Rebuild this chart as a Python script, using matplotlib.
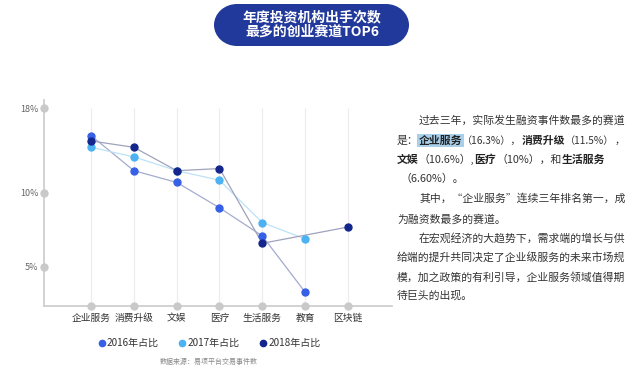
import numpy as np
import matplotlib
matplotlib.use("Agg")
import matplotlib.pyplot as plt
from matplotlib.patches import FancyBboxPatch, Ellipse
from matplotlib.lines import Line2D

plt.rcParams['font.family'] = ['Noto Sans CJK SC', 'DejaVu Sans']

# ---------------- data ----------------
categories = ["企业服务", "消费升级", "文娱", "医疗", "生活服务", "教育", "区块链"]
series_names = ["2016年占比", "2017年占比", "2018年占比"]
share_2016 = [15.4, 12.1, 11.0, 9.0, 7.1, 3.3, np.nan]
share_2017 = [14.3, 13.4, 12.1, 11.2, 8.0, 6.9, np.nan]
share_2018 = [14.9, 14.3, 12.1, 12.3, 6.6, np.nan, 7.7]
ytick_values = [5, 10, 18]
ytick_labels = ["5%", "10%", "18%"]

title_lines = ["年度投资机构出手次数", "最多的创业赛道TOP6"]
source_text = "数据来源：易项平台交易事件数"

# ---------------- style ----------------
W, H = 630, 370
fig = plt.figure(figsize=(W / 100, H / 100), dpi=100)
fig.patch.set_facecolor("white")

point_colors = ["#3660e6", "#4cb2f2", "#14268c"]
line_colors = ["#a3abcf", "#bfe1f6", "#9fa3bb"]

ax = fig.add_axes([44 / W, 1 - 306 / H, (392 - 44) / W, (306 - 100) / H])
ax.set_facecolor("none")

# piecewise axis scale (as in the reference's uneven tick spacing)
anch_v = [2.36, 5, 10, 18, 18.75]
anch_h = [0, 39, 113, 198, 206]
fwd = lambda v: np.interp(v, anch_v, anch_h)
inv = lambda h: np.interp(h, anch_h, anch_v)
ax.set_yscale("function", functions=(fwd, inv))
ax.set_ylim(2.36, 18.75)

x = np.arange(len(categories))
ax.set_xlim(-1.1, 7.03)

# vertical gridlines
ax.vlines(x, 2.36, 18, color="#ececf0", lw=0.8, zorder=0)

for vals, pc, lc in zip([share_2016, share_2017, share_2018], point_colors, line_colors):
    v = np.array(vals, dtype=float)
    m = ~np.isnan(v)
    ax.plot(x[m], v[m], color=lc, lw=0.9, zorder=2)
    ax.plot(x[m], v[m], ls="none", marker="o", ms=5, color=pc, zorder=3)

# spines
for s in ["top", "right"]:
    ax.spines[s].set_visible(False)
for s in ["left", "bottom"]:
    ax.spines[s].set_color("#cfcfcf")
    ax.spines[s].set_linewidth(1.3)

ax.set_yticks(ytick_values)
ax.set_yticklabels(ytick_labels, fontsize=6.5, color="#666666")
ax.set_xticks(x)
ax.set_xticklabels(categories, fontsize=7, color="#333333")
ax.tick_params(length=0, pad=5)
ax.tick_params(axis="y", pad=4)

# gray dots on axes
ax.plot(x, [2.36] * len(x), ls="none", marker="o", ms=5, color="#c9c9c9", clip_on=False, zorder=4)
ax.plot([-1.1] * len(ytick_values), ytick_values, ls="none", marker="o", ms=5, color="#c9c9c9",
        clip_on=False, zorder=4)

# legend
handles = [Line2D([], [], ls="none", marker="o", ms=4.5, color=c) for c in point_colors]
fig.legend(handles, series_names, loc="center", bbox_to_anchor=(209 / W, 1 - 343 / H), ncol=3,
           frameon=False, fontsize=7.2, handletextpad=0.15, columnspacing=1.9, handlelength=0.8,
           labelcolor="#333333")

fig.text(209 / W, 1 - 362 / H, source_text, fontsize=5, color="#888888", ha="center", va="center")

# title banner
banner = FancyBboxPatch((237 / W, 1 - 46 / H), (386 - 237) / W, 42 / H,
                        boxstyle="round,pad=0,rounding_size=0.0", transform=fig.transFigure,
                        facecolor="#22399c", edgecolor="none")
fig.patches.append(banner)
for cx in [237, 386]:
    e = Ellipse((cx / W, 1 - 25 / H), 46 / W, 42 / H, transform=fig.transFigure,
                facecolor="#22399c", edgecolor="none")
    fig.patches.append(e)
fig.text(312 / W, 1 - 17 / H, title_lines[0], fontsize=10, fontweight="bold", color="white",
         ha="center", va="center")
fig.text(312 / W, 1 - 32 / H, title_lines[1], fontsize=10, fontweight="bold", color="white",
         ha="center", va="center")

# right-side paragraph
renderer = fig.canvas.get_renderer()
TXT = "#333333"
FS = 7.8


def rich_line(x_px, base_px, parts):
    xx = x_px
    for s, bold, hl, fs in parts:
        kw = dict(fontsize=fs, color=TXT if not bold else "#222222",
                  fontweight="bold" if bold else "normal", ha="left", va="baseline")
        if hl:
            kw["bbox"] = dict(facecolor="#a9d0ea", edgecolor="none", pad=1.0)
        t = fig.text(xx / W, 1 - base_px / H, s, **kw)
        bb = t.get_window_extent(renderer)
        xx += bb.width


S = 7.3
para = [
    (419, 124, [("过去三年，实际发生融资事件数最多的赛道", False, False, FS)]),
    (397, 144, [("是：", False, False, FS), ("企业服务", True, True, FS), ("（16.3%），", False, False, S),
                ("消费升级", True, False, FS), ("（11.5%）", False, False, S), ("，", False, False, S)]),
    (397, 163, [("文娱", True, False, FS), ("（10.6%）,", False, False, FS), ("医疗", True, False, FS),
                ("（10%），和", False, False, FS), ("生活服务", True, False, FS)]),
    (400, 182, [("（6.60%）。", False, False, FS)]),
    (419, 202, [("其中，“企业服务”连续三年排名第一，成", False, False, FS)]),
    (397, 223, [("为融资数最多的赛道。", False, False, FS)]),
    (419, 242, [("在宏观经济的大趋势下，需求端的增长与供", False, False, FS)]),
    (397, 261, [("给端的提升共同决定了企业级服务的未来市场规", False, False, FS)]),
    (397, 281, [("模，加之政策的有利引导，企业服务领域值得期", False, False, FS)]),
    (397, 299, [("待巨头的出现。", False, False, FS)]),
]
for xp, bp, parts in para:
    rich_line(xp, bp, parts)

fig.savefig("out.png", dpi=100, facecolor="white")
